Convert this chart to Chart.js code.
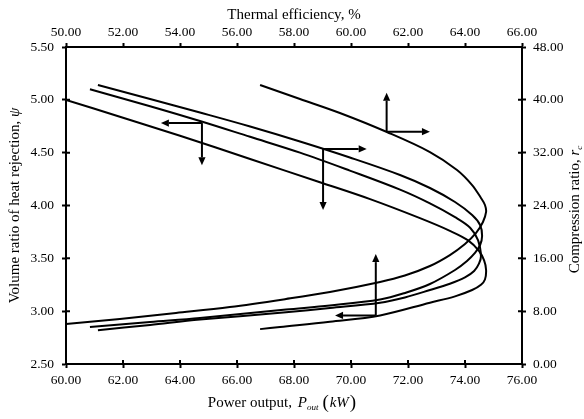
<!DOCTYPE html>
<html><head><meta charset="utf-8">
<script src="https://cdn.jsdelivr.net/npm/chart.js@4.4.1/dist/chart.umd.min.js"></script>
<style>html,body{margin:0;padding:0;background:#fff}#wrap{width:584px;height:419px}</style>
</head><body><div id="wrap"><canvas id="c" width="584" height="419"></canvas></div>
<script>
// ---- Data ----
// Curve A: volume ratio psi vs thermal efficiency (top / left axes)
const etaA = [50.00, 51.89, 54.00, 56.46, 58.91, 60.67, 62.42, 63.47, 64.11, 64.49, 64.67, 64.74, 64.70, 64.56, 64.25, 63.65, 62.77, 61.02, 59.26, 57.51, 56.81];
const psiA = [5.00, 4.84, 4.66, 4.44, 4.22, 4.06, 3.88, 3.76, 3.67, 3.57, 3.48, 3.39, 3.30, 3.25, 3.20, 3.14, 3.08, 2.96, 2.90, 2.85, 2.83];
// Curve B: compression ratio vs thermal efficiency (top / right axes)
const etaB = [56.81, 58.21, 59.61, 61.26, 62.77, 63.72, 64.25, 64.56, 64.70, 64.74, 64.63, 64.39, 64.00, 63.47, 62.77, 61.89, 61.02, 59.26, 57.72, 55.75, 53.86, 51.89, 50.00];
const rcB = [42.25, 40.13, 38.01, 35.13, 32.10, 29.38, 27.10, 25.14, 24.08, 23.02, 21.50, 19.84, 18.17, 16.50, 14.84, 13.40, 12.42, 10.90, 9.84, 8.63, 7.72, 6.81, 6.06];
// Curve C: volume ratio psi vs power output (bottom / left axes)
const powC = [60.84, 62.95, 64.70, 66.46, 68.21, 69.96, 71.72, 72.77, 73.65, 74.18, 74.46, 74.56, 74.49, 74.32, 74.00, 73.47, 72.77, 71.89, 71.02, 69.26, 67.72, 64.70, 62.95, 61.12];
const psiC = [5.10, 4.94, 4.80, 4.65, 4.50, 4.33, 4.15, 4.02, 3.89, 3.79, 3.67, 3.52, 3.45, 3.38, 3.32, 3.26, 3.20, 3.13, 3.08, 3.03, 2.99, 2.92, 2.87, 2.82];
// Curve D: compression ratio vs power output (bottom / right axes)
const powD = [61.12, 62.95, 64.70, 66.46, 68.21, 69.96, 71.72, 72.77, 73.65, 74.25, 74.53, 74.60, 74.53, 74.35, 74.07, 73.65, 72.77, 71.89, 71.02, 69.26, 67.72, 64.70, 62.95, 60.84];
const rcD = [42.25, 40.13, 38.08, 35.96, 33.69, 31.27, 28.62, 26.65, 24.53, 22.56, 21.05, 19.38, 18.02, 16.81, 15.60, 14.23, 12.11, 10.75, 9.77, 8.86, 8.25, 6.97, 6.36, 5.60];

// Tick values
const powerTicks = [60, 62, 64, 66, 68, 70, 72, 74, 76];
const etaTicks = [50, 52, 54, 56, 58, 60, 62, 64, 66];
const psiTicks = [2.5, 3.0, 3.5, 4.0, 4.5, 5.0, 5.5];
const rcTicks = [0, 8, 16, 24, 32, 40, 48];

// Axis-indicator arrows (anchor on a curve, tips in data units)
const arrowMarks = [
  {xAxis:'x',  yAxis:'y',  origin:[64.77, 4.78], tips:[[63.33, 4.78], [64.77, 4.38]]},
  {xAxis:'x',  yAxis:'y2', origin:[69.02, 32.56], tips:[[70.55, 32.56], [69.02, 23.32]]},
  {xAxis:'x2', yAxis:'y2', origin:[61.25, 35.18], tips:[[61.25, 41.08], [62.77, 35.18]]},
  {xAxis:'x2', yAxis:'y',  origin:[60.87, 2.96], tips:[[60.87, 3.54], [59.44, 2.96]]}
];

const SERIF = '"Liberation Serif","Times New Roman",serif';
const f = (style, size) => `${style} ${size}px ${SERIF}`;

function pts(xs, ys){ return xs.map((x,i)=>({x:x, y:ys[i]})); }
function ds(label, xs, ys, xid, yid){
  return {label, data:pts(xs,ys), xAxisID:xid, yAxisID:yid, showLine:true,
    borderColor:'#000', borderWidth:2, pointRadius:0, tension:0.35, fill:false};
}

function richWidth(ctx, parts){ let w=0; for(const p of parts){ ctx.font=p.font; w+=ctx.measureText(p.t).width+(p.dx||0);} return w; }
function drawRich(ctx, parts, cx, base){
  let x = cx - richWidth(ctx, parts)/2;
  ctx.textAlign='left'; ctx.textBaseline='alphabetic';
  for(const p of parts){ ctx.font=p.font; x+=(p.dx||0); ctx.fillText(p.t, x, base+(p.dy||0)); x+=ctx.measureText(p.t).width; }
}

const decor = {
  id:'decor',
  afterDraw(chart){
    const ctx = chart.ctx, a = chart.chartArea, S = chart.scales;
    ctx.save();
    ctx.strokeStyle='#000'; ctx.fillStyle='#000'; ctx.lineWidth=2;
    const inner = 4;
    ctx.beginPath();
    for(const v of powerTicks){ const p=S.x.getPixelForValue(v); ctx.moveTo(p,a.bottom); ctx.lineTo(p,a.bottom-inner); }
    for(const v of etaTicks){ const p=S.x2.getPixelForValue(v); ctx.moveTo(p,a.top); ctx.lineTo(p,a.top+1); }
    for(const v of psiTicks){ const p=S.y.getPixelForValue(v); ctx.moveTo(a.left,p); ctx.lineTo(a.left+inner,p); }
    for(const v of rcTicks){ const p=S.y2.getPixelForValue(v); ctx.moveTo(a.right,p); ctx.lineTo(a.right-inner,p); }
    ctx.stroke();
    for(const m of arrowMarks){
      const sx=S[m.xAxis], sy=S[m.yAxis];
      const ox=sx.getPixelForValue(m.origin[0]), oy=sy.getPixelForValue(m.origin[1]);
      for(const t of m.tips){
        const tx=sx.getPixelForValue(t[0]), ty=sy.getPixelForValue(t[1]);
        const ang=Math.atan2(ty-oy, tx-ox), L=8, H=3.6;
        const bx=tx-L*Math.cos(ang), by=ty-L*Math.sin(ang);
        ctx.beginPath(); ctx.moveTo(ox,oy); ctx.lineTo(bx,by); ctx.stroke();
        ctx.beginPath(); ctx.moveTo(tx,ty);
        ctx.lineTo(bx+H*Math.sin(ang), by-H*Math.cos(ang));
        ctx.lineTo(bx-H*Math.sin(ang), by+H*Math.cos(ang));
        ctx.closePath(); ctx.fill();
      }
    }
    const cx=(a.left+a.right)/2, cy=(a.top+a.bottom)/2;
    drawRich(ctx, [{t:'Thermal efficiency, %', font:f('normal',15)}], cx, 19);
    drawRich(ctx, [
      {t:'Power output, ', font:f('normal',15)},
      {t:'P', font:f('italic',15), dx:2},
      {t:'out', font:f('italic',9), dy:3},
      {t:'(', font:f('normal',19), dx:4, dy:1},
      {t:'kW', font:f('italic',15), dx:1},
      {t:')', font:f('normal',19), dx:1, dy:1}
    ], cx-12, 407);
    ctx.save(); ctx.translate(19, cy); ctx.rotate(-Math.PI/2);
    drawRich(ctx, [{t:'Volume ratio of heat rejection, ', font:f('normal',15)}, {t:'ψ', font:f('italic',15)}], 0, 0);
    ctx.restore();
    ctx.save(); ctx.translate(579, cy+4); ctx.rotate(-Math.PI/2);
    drawRich(ctx, [{t:'Compression ratio, ', font:f('normal',15)}, {t:'r', font:f('italic',15)}, {t:'c', font:f('italic',9), dy:3}], 0, 0);
    ctx.restore();
    ctx.restore();
  }
};

function axis(pos, min, max, list, fit, pad){
  return {
    type:'linear', position:pos, min, max,
    afterBuildTicks: s => { s.ticks = list.map(v=>({value:v})); },
    afterFit: fit,
    ticks:{ color:'#000', font:{family:SERIF, size:13.5}, padding:pad, maxRotation:0, autoSkip:false,
      callback: v => Number(v).toFixed(2) },
    grid:{ display:true, drawOnChartArea:false, drawTicks:true, tickLength:4, tickWidth:2, tickColor:'#000' },
    border:{ display:true, color:'#000', width:2 },
    title:{ display:false }
  };
}

new Chart(document.getElementById('c'), {
  type:'scatter',
  data:{ datasets:[
    ds('psi vs eta', etaA, psiA, 'x2', 'y'),
    ds('rc vs eta', etaB, rcB, 'x2', 'y2'),
    ds('psi vs P', powC, psiC, 'x', 'y'),
    ds('rc vs P', powD, rcD, 'x', 'y2')
  ]},
  options:{
    responsive:false, animation:false, devicePixelRatio:1,
    layout:{ padding:0, autoPadding:false },
    plugins:{ legend:{display:false}, tooltip:{enabled:false} },
    scales:{
      x:  axis('bottom', 60, 76, powerTicks, s=>{ s.height=55; }, 4),
      x2: axis('top', 50, 66, etaTicks, s=>{ s.height=47; }, 2),
      y:  axis('left', 2.5, 5.5, psiTicks, s=>{ s.width=66; }, 8),
      y2: axis('right', 0, 48, rcTicks, s=>{ s.width=62; }, 7)
    }
  },
  plugins:[decor]
});
</script>
</body></html>
